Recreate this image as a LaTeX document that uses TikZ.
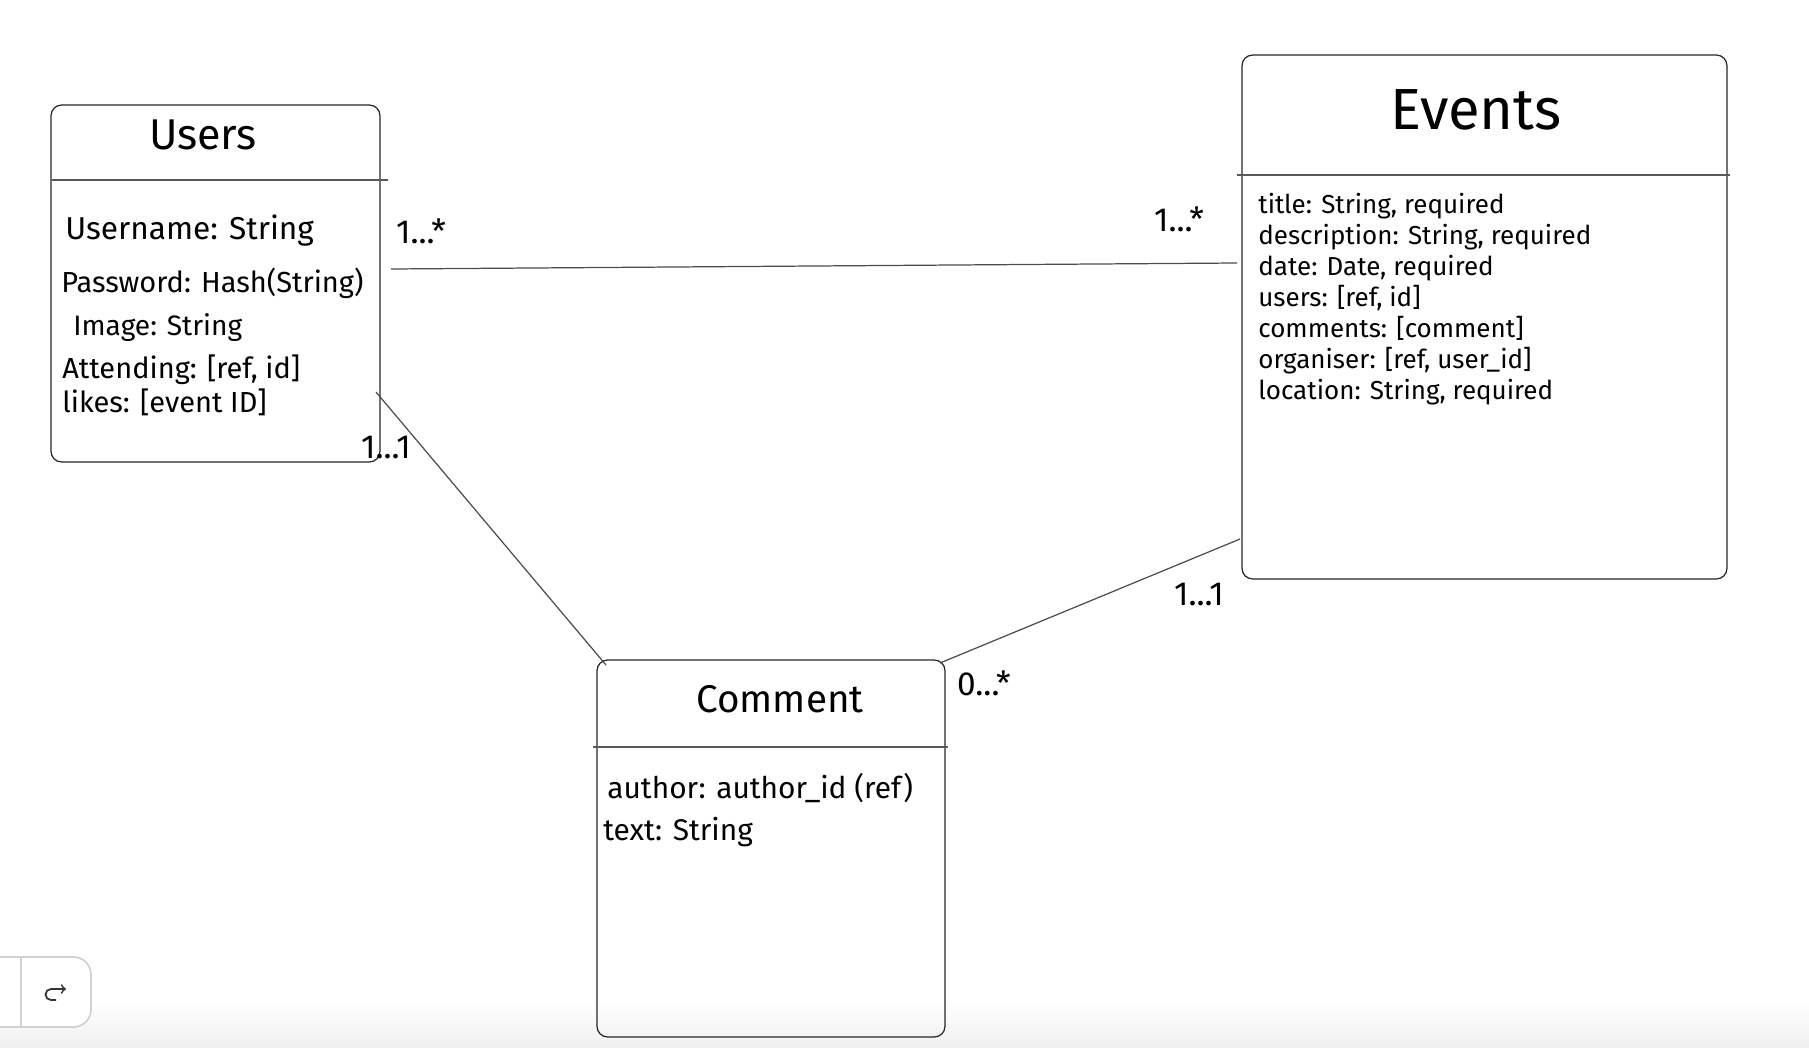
\documentclass[tikz,border=0pt]{standalone}
\usepackage{fontspec}
\setmainfont{Fira Sans}

\begin{document}
\begin{tikzpicture}[x=0.02cm, y=-0.02cm]
        \tikzstyle{table}=[draw=black!85, line width=0.7pt, rectangle, rounded corners=6pt, inner sep=0pt]
        \tikzstyle{rule}=[draw=black!65, line width=0.8pt]
        \tikzstyle{link}=[draw=black!70, line width=0.7pt]
        \tikzstyle{title}=[inner sep=0pt, font=\fontsize{22}{26}\selectfont]
        \tikzstyle{field}=[anchor=west, inner sep=0pt, font=\fontsize{16.5}{19}\selectfont]
        \tikzstyle{efield}=[anchor=base west, inner sep=0pt, font=\fontsize{14.8}{17}\selectfont]
        \tikzstyle{mult}=[inner sep=0pt, font=\fontsize{19}{22}\selectfont]

        \useasboundingbox (0,0) rectangle (1809,1048);
        \shade[top color=white, bottom color=black!6] (0,1000) rectangle (1809,1048);

% The three collections, each a box with a title and its fields.

        \node[table, minimum width=6.58cm, minimum height=7.14cm] (users) at (215.5,283.5) {};
        \node[title, font=\fontsize{24.5}{28}\selectfont] (userstitle) at (203,135) {Users};
        \draw[rule] (52,180) -- (388,180);
        \node[field, font=\fontsize{18}{21}\selectfont] (uname) at (65,231) {Username: String};
        \node[field] (upass) at (61,283) {Password: Hash(String)};
        \node[field, font=\fontsize{16}{19}\selectfont] (uimage) at (73,328) {Image: String};
        \node[field] (uattend) at (62,370) {Attending: [ref, id]};
        \node[field] (ulikes) at (62,402) {likes: [event ID]};

        \node[table, minimum width=9.7cm, minimum height=10.48cm] (events) at (1484.5,317) {};
        \node[title, font=\fontsize{33}{38}\selectfont] (eventstitle) at (1476,110) {Events};
        \draw[rule] (1237,175) -- (1730,175);
        \node[efield] (etitle) at (1258,213) {title: String, required};
        \node[efield] (edesc) at (1258,244) {description: String, required};
        \node[efield] (edate) at (1258,275) {date: Date, required};
        \node[efield] (eusers) at (1258,306) {users: [ref, id]};
        \node[efield] (ecomments) at (1258,337) {comments: [comment]};
        \node[efield] (eorg) at (1258,368) {organiser: [ref, user\_id]};
        \node[efield] (eloc) at (1258,399) {location: String, required};

        \node[table, minimum width=6.96cm, minimum height=7.54cm] (comment) at (771,848.5) {};
        \node[title] (commenttitle) at (780,699) {Comment};
        \draw[rule] (593,747) -- (948,747);
        \node[field, font=\fontsize{17}{20}\selectfont] (cauthor) at (607,788) {author: author\_id (ref)};
        \node[field, font=\fontsize{17}{20}\selectfont] (ctext) at (603,832) {text: String};

% Relations between them, with their multiplicities.

        \coordinate (ue) at (391,269);
        \coordinate (eu) at (1237,263);
        \coordinate (uc) at (376,392);
        \coordinate (cu) at (606,665);
        \coordinate (ce) at (940,663);
        \coordinate (ec) at (1240,539);
        \draw[link] (ue) -- (eu);
        \draw[link] (uc) -- (cu);
        \draw[link] (ce) -- (ec);

        \node[mult] (mue) at (421,231) {1...*};
        \node[mult] (meu) at (1179,219) {1...*};
        \node[mult] (muc) at (386,448) {1...1};
        \node[mult] (mec) at (1199,595) {1...1};
        \node[mult] (mce) at (984,683) {0...*};

% Redo button in the corner.

        \draw[draw=black!18, fill=white, line width=1pt, rounded corners=10pt] (-20,957) rectangle (91,1027);
        \draw[draw=black!18, line width=1pt] (21,957) -- (21,1027);
        \draw[black!80, line width=1pt, ->] (56,1000) -- (51,1000) arc (90:270:5.5) -- (66,989);

    \end{tikzpicture}
\end{document}
